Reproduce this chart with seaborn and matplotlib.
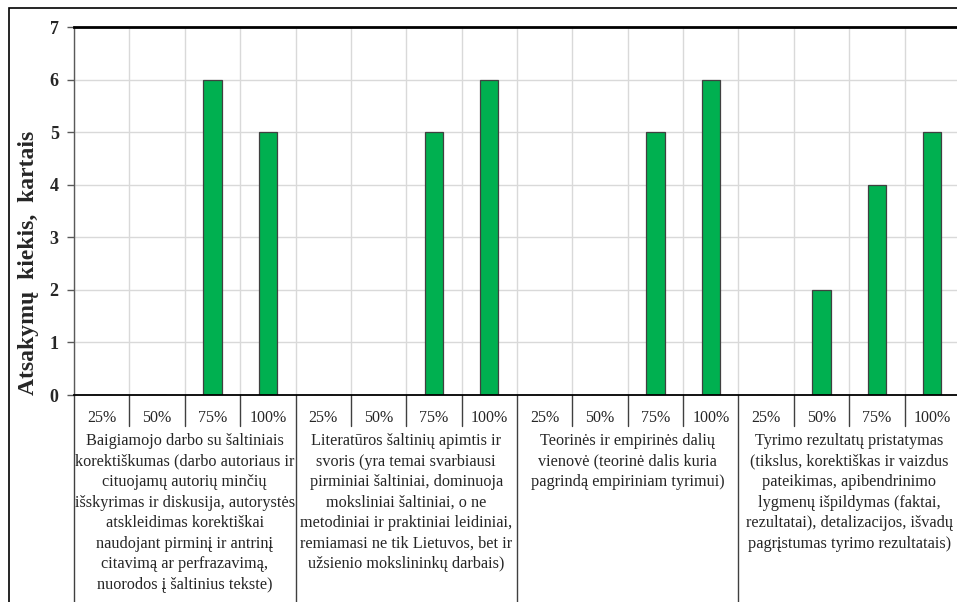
import numpy as np
import pandas as pd
import seaborn as sns
import matplotlib.pyplot as plt
from matplotlib.patches import Rectangle

# duomenys
grupes = [
    "Baigiamojo darbo su šaltiniais\nkorektiškumas (darbo autoriaus ir\ncituojamų autorių minčių\n"
    "išskyrimas ir diskusija, autorystės\natskleidimas korektiškai\nnaudojant pirminį ir antrinį\n"
    "citavimą ar perfrazavimą,\nnuorodos į šaltinius tekste)",
    "Literatūros šaltinių apimtis ir\nsvoris (yra temai svarbiausi\npirminiai šaltiniai, dominuoja\n"
    "moksliniai šaltiniai, o ne\nmetodiniai ir praktiniai leidiniai,\nremiamasi ne tik Lietuvos, bet ir\n"
    "užsienio mokslininkų darbais)",
    "Teorinės ir empirinės dalių\nvienovė (teorinė dalis kuria\npagrindą empiriniam tyrimui)",
    "Tyrimo rezultatų pristatymas\n(tikslus, korektiškas ir vaizdus\npateikimas, apibendrinimo\n"
    "lygmenų išpildymas (faktai,\nrezultatai), detalizacijos, išvadų\npagrįstumas tyrimo rezultatais)",
]
lygiai = ["25%", "50%", "75%", "100%"]
kiekiai_1 = [0, 0, 6, 5]
kiekiai_2 = [0, 0, 5, 6]
kiekiai_3 = [0, 0, 5, 6]
kiekiai_4 = [0, 2, 4, 5]
ylabel = "Atsakymų  kiekis,  kartais"

visi = [kiekiai_1, kiekiai_2, kiekiai_3, kiekiai_4]
rows = []
for gi, kiek in enumerate(visi):
    for lyg, k in zip(lygiai, kiek):
        rows.append({"vieta": f"{gi}-{lyg}", "grupe": gi, "lygis": lyg, "kiekis": k})
df = pd.DataFrame(rows)
order = df["vieta"].tolist()

sns.set_theme(style="white")
plt.rcParams["font.family"] = ["Liberation Serif", "DejaVu Serif"]

W, H = 957, 602
fig = plt.figure(figsize=(W / 100, H / 100), dpi=100)
ax_l, ax_t, ax_r, ax_b = 74, 27, 960, 395
ax = fig.add_axes([ax_l / W, 1 - ax_b / H, (ax_r - ax_l) / W, (ax_b - ax_t) / H])

sns.barplot(data=df, x="vieta", y="kiekis", order=order, color="#00B050",
            saturation=1, edgecolor="#404040", linewidth=0.9, width=0.33, ax=ax)

ax.set_xlim(-0.5, len(order) - 0.5)
ax.set_ylim(0, 7)
ax.set_yticks(range(8))
ax.set_yticklabels([str(i) for i in range(8)], fontsize=13, fontweight="bold")
ax.tick_params(axis="y", direction="out", length=5, width=1, color="#595959", pad=6, left=True)
ax.set_xticks(range(len(order)))
ax.set_xticklabels([])
ax.tick_params(axis="x", length=0)
ax.set_xticks(np.arange(-0.5, len(order), 1), minor=True)
ax.tick_params(axis="x", which="minor", length=0)
ax.grid(axis="y", which="major", color="#D9D9D9", lw=1)
ax.grid(axis="x", which="minor", color="#D9D9D9", lw=1)
ax.set_axisbelow(True)
ax.set_xlabel("")
ax.set_ylabel("")

ax.spines["left"].set_color("#595959")
ax.spines["left"].set_linewidth(1)
ax.spines["bottom"].set_color("black")
ax.spines["bottom"].set_linewidth(1.3)
ax.spines["top"].set_color("black")
ax.spines["top"].set_linewidth(2)
ax.spines["right"].set_visible(False)

# kategoriju asis
trans = ax.get_xaxis_transform()
hpx = ax_b - ax_t
for i, lyg in enumerate(df["lygis"]):
    ax.text(i, -26.5 / hpx, lyg, transform=trans, ha="center", va="baseline", fontsize=11.5)
for i in range(len(order) + 1):
    b = i - 0.5
    if i % 4 == 0:
        ax.plot([b, b], [0, -0.7], transform=trans, color="#404040", lw=1, clip_on=False)
    else:
        ax.plot([b, b], [0, -31 / hpx], transform=trans, color="#404040", lw=1, clip_on=False)
for gi, g in enumerate(grupes):
    ax.text(gi * 4 + 1.5, -38 / hpx, g, transform=trans, ha="center", va="top",
            fontsize=11.7, linespacing=1.38)

fig.text(29 / W, 1 - 263 / H, ylabel, rotation=90, ha="center", va="center",
         fontsize=17, fontweight="bold")

fig.patches.append(Rectangle((9 / W, -0.1), 1.2, 1.1 - 8 / H, transform=fig.transFigure,
                             fill=False, edgecolor="black", lw=1.2))

fig.savefig("out.png", dpi=100)
